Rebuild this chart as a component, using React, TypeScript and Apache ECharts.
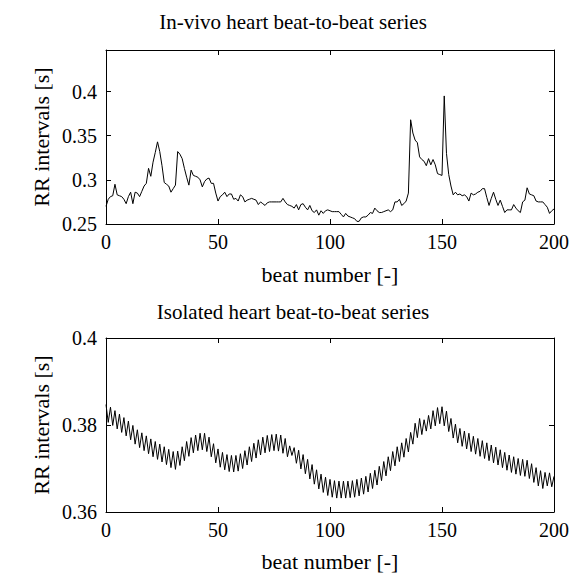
import React, { useEffect, useRef } from "react";
import * as echarts from "echarts";

const beats: number[] = Array.from({ length: 201 }, (_, i) => i);

const invivoRR: number[] = [
  0.270, 0.278, 0.281, 0.282, 0.295, 0.283, 0.282, 0.281, 0.278, 0.273,
  0.281, 0.286, 0.273, 0.286, 0.285, 0.281, 0.287, 0.293, 0.296, 0.313,
  0.304, 0.320, 0.331, 0.343, 0.332, 0.316, 0.297, 0.295, 0.293, 0.286,
  0.290, 0.294, 0.332, 0.329, 0.324, 0.313, 0.303, 0.294, 0.311, 0.305,
  0.304, 0.303, 0.300, 0.292, 0.298, 0.301, 0.302, 0.296, 0.296, 0.285,
  0.276, 0.281, 0.283, 0.286, 0.281, 0.284, 0.284, 0.278, 0.279, 0.276,
  0.283, 0.281, 0.275, 0.277, 0.278, 0.279, 0.278, 0.277, 0.272, 0.275,
  0.273, 0.271, 0.274, 0.275, 0.275, 0.275, 0.275, 0.275, 0.275, 0.279,
  0.275, 0.272, 0.271, 0.270, 0.268, 0.272, 0.266, 0.272, 0.273, 0.269,
  0.266, 0.271, 0.265, 0.263, 0.266, 0.260, 0.265, 0.262, 0.265, 0.266,
  0.265, 0.264, 0.264, 0.264, 0.264, 0.261, 0.258, 0.262, 0.259, 0.258,
  0.257, 0.256, 0.253, 0.253, 0.257, 0.258, 0.258, 0.260, 0.263, 0.262,
  0.268, 0.265, 0.263, 0.263, 0.264, 0.265, 0.266, 0.264, 0.266, 0.275,
  0.275, 0.278, 0.271, 0.273, 0.276, 0.285, 0.368, 0.353, 0.345, 0.342,
  0.326, 0.323, 0.321, 0.316, 0.324, 0.317, 0.323, 0.317, 0.307, 0.306,
  0.305, 0.395, 0.330, 0.306, 0.293, 0.283, 0.286, 0.283, 0.284, 0.282,
  0.283, 0.281, 0.276, 0.285, 0.283, 0.284, 0.286, 0.287, 0.290, 0.290,
  0.280, 0.271, 0.279, 0.286, 0.278, 0.271, 0.277, 0.270, 0.263, 0.266,
  0.266, 0.266, 0.272, 0.268, 0.265, 0.263, 0.275, 0.277, 0.291, 0.284,
  0.283, 0.282, 0.276, 0.275, 0.275, 0.275, 0.272, 0.269, 0.262, 0.265,
  0.267,
];

const isolatedRR: number[] = [
  0.3847, 0.3806, 0.3841, 0.3799, 0.3833, 0.3791, 0.3825, 0.3783, 0.3817, 0.3775,
  0.3809, 0.3766, 0.3799, 0.3756, 0.3789, 0.3748, 0.3782, 0.3741, 0.3775, 0.3734,
  0.3768, 0.3727, 0.3762, 0.3721, 0.3756, 0.3715, 0.3750, 0.3709, 0.3744, 0.3702,
  0.3739, 0.3698, 0.3740, 0.3707, 0.3750, 0.3718, 0.3762, 0.3728, 0.3771, 0.3736,
  0.3777, 0.3741, 0.3781, 0.3743, 0.3781, 0.3739, 0.3772, 0.3727, 0.3757, 0.3713,
  0.3745, 0.3703, 0.3737, 0.3697, 0.3732, 0.3693, 0.3730, 0.3692, 0.3730, 0.3694,
  0.3734, 0.3700, 0.3741, 0.3708, 0.3750, 0.3716, 0.3758, 0.3724, 0.3766, 0.3731,
  0.3772, 0.3736, 0.3776, 0.3739, 0.3778, 0.3741, 0.3779, 0.3740, 0.3777, 0.3735,
  0.3769, 0.3727, 0.3752, 0.3730, 0.3748, 0.3712, 0.3742, 0.3699, 0.3732, 0.3688,
  0.3721, 0.3676, 0.3709, 0.3664, 0.3697, 0.3653, 0.3687, 0.3645, 0.3680, 0.3638,
  0.3675, 0.3634, 0.3672, 0.3632, 0.3671, 0.3632, 0.3671, 0.3632, 0.3671, 0.3633,
  0.3672, 0.3634, 0.3675, 0.3637, 0.3678, 0.3641, 0.3682, 0.3646, 0.3689, 0.3654,
  0.3696, 0.3662, 0.3705, 0.3672, 0.3716, 0.3683, 0.3727, 0.3695, 0.3739, 0.3706,
  0.3750, 0.3716, 0.3759, 0.3726, 0.3769, 0.3738, 0.3783, 0.3756, 0.3804, 0.3771,
  0.3815, 0.3778, 0.3812, 0.3786, 0.3822, 0.3791, 0.3833, 0.3798, 0.3840, 0.3803,
  0.3842, 0.3798, 0.3832, 0.3785, 0.3815, 0.3770, 0.3802, 0.3759, 0.3792, 0.3751,
  0.3786, 0.3745, 0.3781, 0.3739, 0.3774, 0.3733, 0.3769, 0.3728, 0.3764, 0.3723,
  0.3759, 0.3718, 0.3754, 0.3713, 0.3749, 0.3708, 0.3743, 0.3702, 0.3737, 0.3696,
  0.3731, 0.3691, 0.3727, 0.3687, 0.3723, 0.3684, 0.3721, 0.3682, 0.3719, 0.3677,
  0.3711, 0.3668, 0.3702, 0.3660, 0.3695, 0.3654, 0.3691, 0.3660, 0.3690, 0.3658,
  0.3682,
];

const xTicks: number[] = [0, 50, 100, 150, 200];
const yTicksTop: number[] = [0.25, 0.3, 0.35, 0.4];
const yTicksBottom: number[] = [0.36, 0.38, 0.4];

const topTitle = "In-vivo heart beat-to-beat series";
const bottomTitle = "Isolated heart beat-to-beat series";
const xName = "beat number [-]";
const yName = "RR intervals [s]";

const FONT = "Liberation Serif";
const FS = 20;
const NAME_FS = 22;
const TITLE_FS = 21;

export default function App() {
  const ref = useRef<HTMLDivElement>(null);
  useEffect(() => {
    if (!ref.current) return;
    const chart = echarts.init(ref.current, undefined, { renderer: "svg" });
    const lineStyle = { color: "#000", width: 1 };
    const mkX = (gi: number) => [
      {
        type: "value", gridIndex: gi, min: 0, max: 200, interval: 50,
        position: "bottom",
        axisLine: { show: true, onZero: false, lineStyle },
        axisTick: { show: true, inside: true, length: 5, lineStyle },
        axisLabel: { show: false },
        splitLine: { show: false },
      },
      {
        type: "value", gridIndex: gi, min: 0, max: 200, interval: 50,
        position: "top",
        axisLine: { show: true, onZero: false, lineStyle },
        axisTick: { show: true, inside: true, length: 5, lineStyle },
        axisLabel: { show: false },
        splitLine: { show: false },
      },
    ];
    const mkY = (gi: number, min: number, max: number, interval: number) => [
      {
        type: "value", gridIndex: gi, min, max, interval,
        position: "left",
        axisLine: { show: true, onZero: false, lineStyle },
        axisTick: { show: true, inside: true, length: 5, lineStyle },
        axisLabel: { show: false },
        splitLine: { show: false },
      },
      {
        type: "value", gridIndex: gi, min, max, interval,
        position: "right",
        axisLine: { show: true, onZero: false, lineStyle },
        axisTick: { show: true, inside: true, length: 5, lineStyle },
        axisLabel: { show: false },
        splitLine: { show: false },
      },
    ];
    chart.setOption({
      animation: false,
      backgroundColor: "#fff",
      grid: [
        { left: 106, top: 50, width: 448, height: 174, containLabel: false },
        { left: 106, top: 338, width: 448, height: 174, containLabel: false },
      ],
      xAxis: [...mkX(0), ...mkX(1)],
      yAxis: [...mkY(0, 0.25, 0.447, 0.05), ...mkY(1, 0.36, 0.4, 0.02)],
      series: [
        {
          type: "line", xAxisIndex: 0, yAxisIndex: 0,
          data: beats.map((b, i) => [b, invivoRR[i]]),
          showSymbol: false, lineStyle: { color: "#000", width: 1 }, silent: true,
        },
        {
          type: "line", xAxisIndex: 2, yAxisIndex: 2,
          data: beats.map((b, i) => [b, isolatedRR[i]]),
          showSymbol: false, lineStyle: { color: "#000", width: 1 }, silent: true,
        },
      ],
    });

    const t = (text: string, x: number, y: number, align: string, va: string, size: number, extra: any = {}) => ({
      type: "text", x, y, ...extra,
      style: { text, fill: "#000", fontFamily: FONT, fontSize: size, align, verticalAlign: va },
    });
    const g: any[] = [];
    const panels = [
      { xi: 0, yi: 0, yt: yTicksTop, title: topTitle, titleY: 22, nameDy: 39 },
      { xi: 2, yi: 2, yt: yTicksBottom, title: bottomTitle, titleY: 312, nameDy: 38 },
    ];
    panels.forEach((p) => {
      const y0 = chart.convertToPixel({ yAxisIndex: p.yi }, p.yt[0]) as number;
      const yTop = chart.convertToPixel({ yAxisIndex: p.yi }, p.yt[p.yt.length - 1]) as number;
      const xL = chart.convertToPixel({ xAxisIndex: p.xi }, 0) as number;
      const xR = chart.convertToPixel({ xAxisIndex: p.xi }, 200) as number;
      xTicks.forEach((v) => {
        const px = chart.convertToPixel({ xAxisIndex: p.xi }, v) as number;
        g.push(t(String(v), px, y0 + 8, "center", "top", FS));
      });
      p.yt.forEach((v) => {
        const py = chart.convertToPixel({ yAxisIndex: p.yi }, v) as number;
        g.push(t(String(v), xL - 9, py, "right", "middle", FS));
      });
      g.push(t(xName, (xL + xR) / 2, y0 + p.nameDy, "center", "top", NAME_FS));
      const plotTop = p.yi === 0 ? 50 : yTop;
      g.push(t(yName, 41, (y0 + plotTop) / 2, "center", "middle", NAME_FS, { rotation: Math.PI / 2 }));
      g.push(t(p.title, 293, p.titleY, "center", "middle", TITLE_FS));
    });
    chart.setOption({ graphic: g });
    return () => chart.dispose();
  }, []);
  return (
    <div
      ref={ref}
      style={{ position: "absolute", left: 0, top: 0, width: 581, height: 575, background: "#fff" }}
    />
  );
}
